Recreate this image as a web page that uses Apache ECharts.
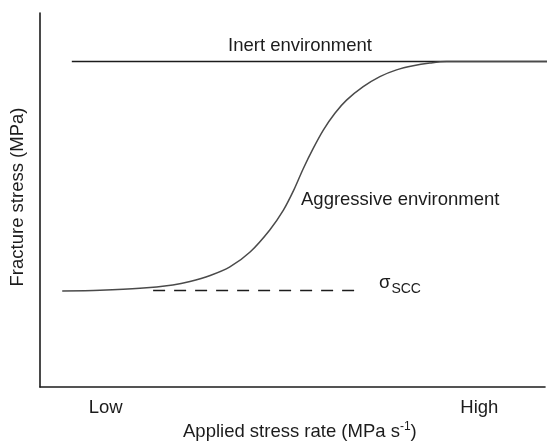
<!DOCTYPE html>
<html>
<head>
<meta charset="utf-8">
<script src="https://cdn.jsdelivr.net/npm/echarts@6/dist/echarts.min.js"></script>
<style>
  html, body { margin: 0; padding: 0; background: #fff; }
  #chart { width: 558px; height: 444px; }
</style>
</head>
<body>
<div id="chart"></div>
<script>
// Applied stress rate on a relative 0–100 scale, fracture stress on a relative 0–100 scale
const rateTicks = [13, 87];
const rateTickLabels = ['Low', 'High'];

// Fracture stress in an inert environment (flat)
const inertRate = [6.3, 102.6];
const inertStress = [87, 87];

// Fracture stress in an aggressive environment (sigmoidal rise)
const aggressiveRate = [4.4, 11.9, 19.8, 26.3, 29.7, 33.7, 37.6, 41.6, 45.5, 48.2, 50.2, 52.1, 54.1, 56.1, 58.4, 60.7, 64.0, 67.3, 70.6, 73.9, 77.2, 80.5, 102.6];
const aggressiveStress = [25.7, 25.9, 26.4, 27.3, 28.2, 29.8, 32.1, 36.1, 42.0, 47.3, 52.5, 58.3, 63.8, 68.7, 73.2, 76.7, 80.3, 83.0, 84.8, 85.9, 86.6, 87.0, 87.0];

// Threshold stress for stress-corrosion cracking
const sccRate = [22.4, 63.6];
const sccStress = [25.8, 25.8];

const ink = '#1c1c1c';
const font = 'Liberation Sans, Arial, Helvetica, sans-serif';
const zip = (xs, ys) => xs.map((x, i) => [x, ys[i]]);

const chart = echarts.init(document.getElementById('chart'), null, { renderer: 'canvas' });

chart.setOption({
  backgroundColor: '#ffffff',
  animation: false,
  grid: { left: 40, right: 13, top: 13, bottom: 57 },
  xAxis: {
    type: 'value',
    min: 0,
    max: 100,
    axisLine: { show: true, lineStyle: { color: ink, width: 1.6 } },
    axisTick: { show: false },
    splitLine: { show: false },
    axisLabel: {
      customValues: rateTicks,
      formatter: v => rateTickLabels[rateTicks.indexOf(v)] || '',
      color: ink,
      fontFamily: font,
      fontSize: 18.5,
      margin: 11
    }
  },
  yAxis: {
    type: 'value',
    min: 0,
    max: 100,
    axisLine: { show: true, lineStyle: { color: ink, width: 1.6 } },
    axisTick: { show: false },
    splitLine: { show: false },
    axisLabel: { show: false }
  },
  series: [
    {
      name: 'Inert environment',
      type: 'line',
      data: zip(inertRate, inertStress),
      showSymbol: false,
      clip: false,
      lineStyle: { color: ink, width: 1.5 }
    },
    {
      name: 'Aggressive environment',
      type: 'line',
      data: zip(aggressiveRate, aggressiveStress),
      smooth: 0.3,
      showSymbol: false,
      clip: false,
      lineStyle: { color: '#4a4a4a', width: 1.5 }
    },
    {
      name: 'σSCC',
      type: 'line',
      data: zip(sccRate, sccStress),
      showSymbol: false,
      clip: false,
      lineStyle: { color: ink, width: 1.3, type: [12, 9] }
    }
  ],
  graphic: [
    {
      type: 'text', left: 228, top: 36,
      style: { text: 'Inert environment', fill: ink, font: '18.5px ' + font }
    },
    {
      type: 'text', left: 301, top: 190,
      style: { text: 'Aggressive environment', fill: ink, font: '18.5px ' + font }
    },
    {
      type: 'text', left: 379, top: 273,
      style: {
        text: '{s|σ}{sub|SCC}',
        fill: ink,
        rich: {
          s: { fontFamily: font, fontSize: 18.5, fill: ink, verticalAlign: 'top', padding: [0, 1, 0, 0] },
          sub: { fontFamily: font, fontSize: 14, fill: ink, padding: [9, 0, 0, 0] }
        }
      }
    },
    {
      type: 'text', left: 183, top: 421,
      style: {
        text: '{t|Applied stress rate (MPa s}{sup|-1}{t|)}',
        fill: ink,
        rich: {
          t: { fontFamily: font, fontSize: 18.5, fill: ink, padding: [0, 0, 0, 0] },
          sup: { fontFamily: font, fontSize: 12, fill: ink, padding: [0, 0, 10, 0] }
        }
      }
    },
    {
      type: 'text',
      x: 18, y: 197,
      rotation: Math.PI / 2,
      style: {
        text: 'Fracture stress (MPa)',
        fill: ink,
        font: '18.5px ' + font,
        align: 'center',
        verticalAlign: 'middle'
      }
    }
  ]
});
</script>
</body>
</html>
